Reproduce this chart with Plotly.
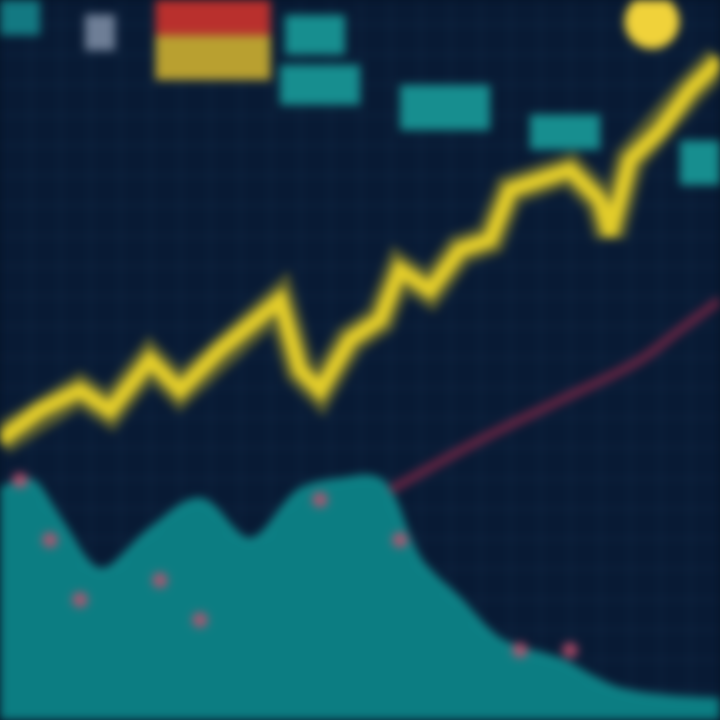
import plotly.graph_objects as go

# ---- data ----
price_x = [0, 4, 8, 11, 15, 18, 22, 26, 28, 30, 32, 35, 38, 40, 43, 46, 49, 51, 54, 57, 60, 61, 63, 66, 69, 72]
price_y = [38.9, 43, 45.8, 43, 50, 45.8, 51.4, 55.6, 58.3, 48.6, 45.8, 52.8, 55.6, 62.5, 59.7, 65.3, 66.7, 73.6, 75, 76.4, 72.2, 67.4, 77.8, 81.9, 87.5, 91.7]

trend_x = [39, 48, 56, 64, 68, 72]
trend_y = [31.9, 38.9, 44.4, 50, 54.2, 58.3]

volume_x = [0, 3, 6, 10, 15, 20, 25, 30, 34, 38, 42, 46, 50, 56, 62, 72]
volume_y = [31.9, 33.3, 27.8, 20.8, 26.4, 30.6, 25, 31.9, 33.3, 33.3, 22.2, 16.7, 11.1, 8.3, 4.2, 2.8]

signal_x = [2, 5, 8, 16, 20, 32, 40, 52, 57]
signal_y = [33.3, 25, 16.7, 19.4, 13.9, 30.6, 25, 9.7, 9.7]

block_x = [21.3, 21.3, 31.5, 32, 44.5, 56.5, 70, 10, 2]
block_w = [11.5, 11.5, 6, 8, 9, 7, 4, 3, 4]
block_base = [95.1, 88.9, 92.4, 85.4, 81.9, 79.2, 74.3, 93, 95.1]
block_h = [4.9, 6.2, 5.5, 5.6, 6.3, 4.9, 6.2, 5, 4.9]
block_color = ["#d8342c", "#d8b830", "#1aa3a0", "#1aa3a0", "#1aa3a0", "#1aa3a0", "#1aa3a0", "#8090a8", "#168a90"]

orb_x = [65.2]
orb_y = [97]

fig = go.Figure()

fig.add_trace(go.Scatter(x=volume_x, y=volume_y, mode="lines", fill="tozeroy",
                         line=dict(color="#139c9c", width=3, shape="spline"),
                         fillcolor="rgba(14,150,150,0.8)", hoverinfo="skip"))
fig.add_trace(go.Scatter(x=signal_x, y=signal_y, mode="markers",
                         marker=dict(color="#c8506e", size=16, opacity=0.8), hoverinfo="skip"))
fig.add_trace(go.Scatter(x=trend_x, y=trend_y, mode="lines",
                         line=dict(color="#662442", width=9, shape="spline"), hoverinfo="skip"))
fig.add_trace(go.Scatter(x=price_x, y=price_y, mode="lines",
                         line=dict(color="rgba(230,210,40,0.35)", width=32), hoverinfo="skip"))
fig.add_trace(go.Scatter(x=price_x, y=price_y, mode="lines",
                         line=dict(color="#e2cc2a", width=15), hoverinfo="skip"))
fig.add_trace(go.Bar(x=block_x, y=block_h, base=block_base, width=block_w,
                     marker=dict(color=block_color, line=dict(width=0)), opacity=0.85,
                     hoverinfo="skip"))
fig.add_trace(go.Scatter(x=orb_x, y=orb_y, mode="markers",
                         marker=dict(color="#f0d23a", size=55, line=dict(width=0)), hoverinfo="skip"))

fig.update_layout(
    width=720, height=720,
    margin=dict(l=0, r=0, t=0, b=0),
    paper_bgcolor="#061428",
    plot_bgcolor="#081a34",
    showlegend=False,
    barmode="overlay",
    xaxis=dict(range=[0, 72], showgrid=True, gridcolor="rgba(70,130,170,0.2)", dtick=3,
               zeroline=False, showticklabels=False, fixedrange=True),
    yaxis=dict(range=[0, 100], showgrid=True, gridcolor="rgba(70,130,170,0.2)", dtick=4.2,
               zeroline=False, showticklabels=False, fixedrange=True),
)

fig.write_html(
    "out.html",
    config={"displayModeBar": False},
    post_script=(
        "document.body.style.margin='0';"
        "document.body.style.background='#061428';"
        "document.body.style.overflow='hidden';"
        "document.getElementById('{plot_id}').style.filter='blur(5px)';"
    ),
)
